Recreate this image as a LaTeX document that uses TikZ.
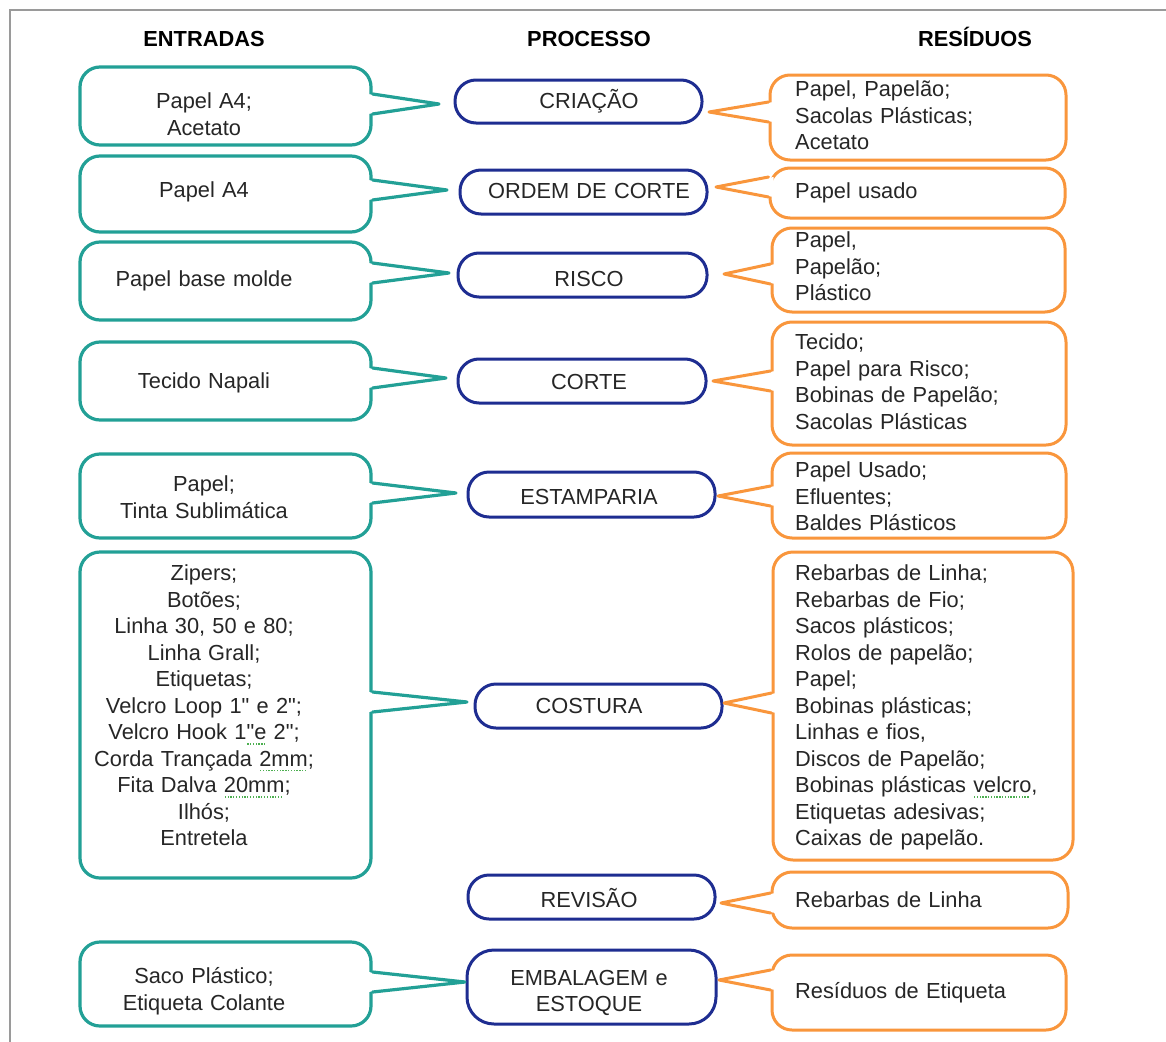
\documentclass[tikz,border=0pt]{standalone}
\usepackage{fontspec}
\setmainfont{Liberation Sans}[Ligatures=TeXOff]
\usetikzlibrary{calc}
\definecolor{tealc}{HTML}{22A096}
\definecolor{bluec}{HTML}{1E2D91}
\definecolor{orangec}{HTML}{F9963C}
\definecolor{framec}{HTML}{9A9A9A}
\definecolor{txt}{HTML}{262626}
\definecolor{sqg}{HTML}{4CAF50}
\newsavebox\splbox
\newcommand\spl[1]{\sbox\splbox{#1}\rlap{\color{sqg}\raisebox{-5pt}[0pt][0pt]{\hbox to \wd\splbox{\leaders\hbox to 2.8pt{\hss\rule{1.3pt}{1.3pt}\hss}\hfill}}}\usebox\splbox}
\newcommand\txtfont{\fontsize{21.8}{26.5}\selectfont}
% #1 style, #2 node, #3 anchor, #4 apex, #5 inward x offset
\newcommand\callout[5]{%
  \fill[white] ($(#2.#3 |- #4)+(#5,-10)$) -- (#4) -- ($(#2.#3 |- #4)+(#5,10)$) -- cycle;
  \draw[#1, line join=round, line cap=round] ($(#2.#3 |- #4)+(0,-10)$) -- (#4) -- ($(#2.#3 |- #4)+(0,10)$);
}
\begin{document}
\begin{tikzpicture}[x=1pt,y=-1pt,
  inbox/.style={draw=tealc, line width=3.2pt, rounded corners=20pt, inner sep=0pt},
  pill/.style={draw=bluec, line width=3pt, rounded corners=21pt, inner sep=0pt},
  pillbig/.style={pill, rounded corners=27pt},
  outbox/.style={draw=orangec, line width=3pt, rounded corners=20pt, inner sep=0pt},
  inline/.style={tealc, line width=3.2pt},
  outline/.style={orangec, line width=3pt},
  intext/.style={font=\txtfont, text=txt, inner sep=0pt, anchor=base, text width=280pt, align=center},
  proctext/.style={font=\txtfont, text=txt, inner sep=0pt, anchor=base, text width=240pt, align=center},
  outtext/.style={font=\txtfont, text=txt, inner sep=0pt, anchor=base west, text width=270pt, align=left},
  head/.style={font=\txtfont\bfseries, text=black, inner sep=0pt, anchor=base}]
\useasboundingbox (0,0) rectangle (1166,1041);
\fill[white] (0,0) rectangle (1166,1041);
% frame
\draw[framec, line width=2.5pt] (10,1045) -- (10,10) -- (1170,10);

% headers
\node[head] (h1) at (204,46) {ENTRADAS};
\node[head] (h2) at (589,46) {PROCESSO};
\node[head] (h3) at (975,46) {RESÍDUOS};

% input boxes
\node[inbox, minimum width=291pt, minimum height=78pt] (in1) at (225.5,106) {};
\node[inbox, minimum width=291pt, minimum height=76pt] (in2) at (225.5,194) {};
\node[inbox, minimum width=291pt, minimum height=78pt] (in3) at (225.5,281) {};
\node[inbox, minimum width=291pt, minimum height=78pt] (in4) at (225.5,381) {};
\node[inbox, minimum width=291pt, minimum height=84pt] (in5) at (225.5,496) {};
\node[inbox, minimum width=291pt, minimum height=326pt] (in6) at (225.5,715) {};
\node[inbox, minimum width=291pt, minimum height=84pt] (in7) at (225.5,984) {};

% process pills
\node[pill, minimum width=247pt, minimum height=43pt] (p1) at (578.5,101.5) {};
\node[pill, minimum width=247pt, minimum height=44pt] (p2) at (583.5,192) {};
\node[pill, minimum width=249pt, minimum height=44pt] (p3) at (582.5,275) {};
\node[pill, minimum width=248pt, minimum height=44pt] (p4) at (582,381) {};
\node[pill, minimum width=247pt, minimum height=45pt] (p5) at (591.5,494.5) {};
\node[pill, minimum width=247pt, minimum height=44pt] (p6) at (598.5,706) {};
\node[pill, minimum width=247pt, minimum height=44pt] (p7) at (591.5,897) {};
\node[pillbig, minimum width=249pt, minimum height=74pt] (p8) at (591.5,987) {};

% output boxes
\node[outbox, minimum width=296pt, minimum height=85pt] (r1) at (918,117.5) {};
\node[outbox, minimum width=295pt, minimum height=50pt] (r2) at (917.5,193) {};
\node[outbox, minimum width=293pt, minimum height=84pt] (r3) at (918.5,270) {};
\node[outbox, minimum width=294pt, minimum height=123pt] (r4) at (919,383.5) {};
\node[outbox, minimum width=294pt, minimum height=85pt] (r5) at (919,495.5) {};
\node[outbox, minimum width=300pt, minimum height=308pt] (r6) at (923,706) {};
\node[outbox, minimum width=296pt, minimum height=56pt] (r7) at (920,900) {};
\node[outbox, minimum width=294pt, minimum height=75pt] (r8) at (919,992.5) {};

% pointer tips
\coordinate (a1) at (439,104);
\coordinate (a2) at (447,190);
\coordinate (a3) at (449,273);
\coordinate (a4) at (446,378);
\coordinate (a5) at (456,493);
\coordinate (a6) at (467,702);
\coordinate (a7) at (465,982);
\coordinate (b1) at (709,112);
\coordinate (b2) at (716,187);
\coordinate (b3) at (724,274);
\coordinate (b4) at (713,381);
\coordinate (b5) at (718,496);
\coordinate (b6) at (724,703);
\coordinate (b7) at (721,903);
\coordinate (b8) at (719,980);

\callout{inline}{in1}{east}{a1}{-5}
\callout{inline}{in2}{east}{a2}{-5}
\callout{inline}{in3}{east}{a3}{-5}
\callout{inline}{in4}{east}{a4}{-5}
\callout{inline}{in5}{east}{a5}{-5}
\callout{inline}{in6}{east}{a6}{-5}
\callout{inline}{in7}{east}{a7}{-5}
\callout{outline}{r1}{west}{b1}{5}
\callout{outline}{r2}{west}{b2}{5}
\callout{outline}{r3}{west}{b3}{5}
\callout{outline}{r4}{west}{b4}{5}
\callout{outline}{r5}{west}{b5}{5}
\callout{outline}{r6}{west}{b6}{5}
\callout{outline}{r7}{west}{b7}{5}
\callout{outline}{r8}{west}{b8}{5}

% input texts
\node[intext] (tin1) at (204,108.5) {Papel A4;\\Acetato};
\node[intext] (tin2) at (204,197.5) {Papel A4};
\node[intext] (tin3) at (204,286.5) {Papel base molde};
\node[intext] (tin4) at (204,388.5) {Tecido Napali};
\node[intext] (tin5) at (204,491.5) {Papel;\\Tinta Sublimática};
\node[intext] (tin6) at (204,580.5) {Zipers;\\Botões;\\Linha 30, 50 e 80;\\Linha Grall;\\Etiquetas;\\Velcro Loop 1" e 2";\\Velcro Hook 1\spl{"e} 2";\\Corda Trançada \spl{2mm};\\Fita Dalva \spl{20mm};\\Ilhós;\\Entretela};
\node[intext] (tin7) at (204,983.5) {Saco Plástico;\\Etiqueta Colante};

% process texts
\node[proctext] (tp1) at (589,108.5) {CRIAÇÃO};
\node[proctext] (tp2) at (589,198.5) {ORDEM DE CORTE};
\node[proctext] (tp3) at (589,286.5) {RISCO};
\node[proctext] (tp4) at (589,389) {CORTE};
\node[proctext] (tp5) at (589,504.5) {ESTAMPARIA};
\node[proctext] (tp6) at (589,713.5) {COSTURA};
\node[proctext] (tp7) at (589,907) {REVISÃO};
\node[proctext] (tp8) at (589,985) {EMBALAGEM e\\ESTOQUE};

% output texts
\node[outtext] (tr1) at (795,96.5) {Papel, Papelão;\\Sacolas Plásticas;\\Acetato};
\node[outtext] (tr2) at (795,198.5) {Papel usado};
\node[outtext] (tr3) at (795,247.5) {Papel,\\Papelão;\\Plástico};
\node[outtext] (tr4) at (795,349.5) {Tecido;\\Papel para Risco;\\Bobinas de Papelão;\\Sacolas Plásticas};
\node[outtext] (tr5) at (795,477.5) {Papel Usado;\\Efluentes;\\Baldes Plásticos};
\node[outtext] (tr6) at (795,580.5) {Rebarbas de Linha;\\Rebarbas de Fio;\\Sacos plásticos;\\Rolos de papelão;\\Papel;\\Bobinas plásticas;\\Linhas e fios,\\Discos de Papelão;\\Bobinas plásticas \spl{velcro},\\Etiquetas adesivas;\\Caixas de papelão.};
\node[outtext] (tr7) at (795,907.5) {Rebarbas de Linha};
\node[outtext] (tr8) at (795,998.5) {Resíduos de Etiqueta};
\end{tikzpicture}
\end{document}
